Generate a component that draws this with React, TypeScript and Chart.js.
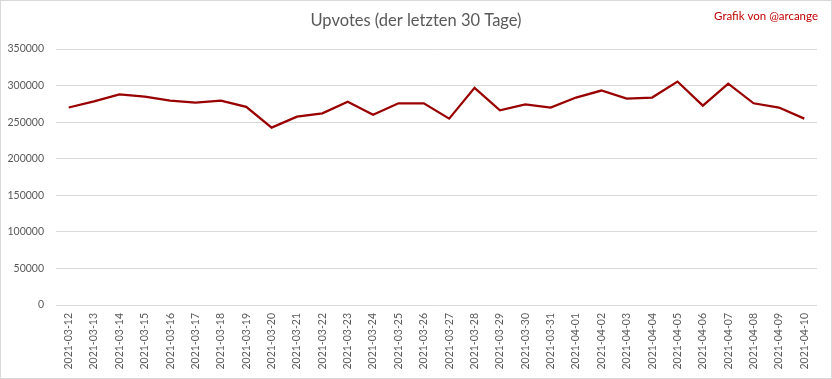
import React, { useEffect, useRef } from "react";
import { Chart, registerables } from "chart.js";

Chart.register(...registerables);

const categories = [
  "2021-03-12", "2021-03-13", "2021-03-14", "2021-03-15", "2021-03-16",
  "2021-03-17", "2021-03-18", "2021-03-19", "2021-03-20", "2021-03-21",
  "2021-03-22", "2021-03-23", "2021-03-24", "2021-03-25", "2021-03-26",
  "2021-03-27", "2021-03-28", "2021-03-29", "2021-03-30", "2021-03-31",
  "2021-04-01", "2021-04-02", "2021-04-03", "2021-04-04", "2021-04-05",
  "2021-04-06", "2021-04-07", "2021-04-08", "2021-04-09", "2021-04-10",
];

const upvotes = [
  270000, 278500, 288000, 285000, 279500,
  276700, 279500, 271000, 242500, 257500,
  262000, 278000, 260000, 275800, 275800,
  254800, 296900, 266200, 274400, 269900,
  283600, 293200, 282200, 283600, 305500,
  272600, 302700, 275800, 269900, 254800,
];

const yMin = 0;
const yMax = 350000;
const yStep = 50000;

const titleText = "Upvotes (der letzten 30 Tage)";
const creditText = "Grafik von @arcange";

const FONT = "Lato, 'Liberation Sans', sans-serif";

export default function App() {
  const ref = useRef<HTMLCanvasElement | null>(null);

  useEffect(() => {
    if (!ref.current) return;
    const decor = {
      id: "decor",
      afterDraw(chart: any) {
        const ctx = chart.ctx;
        ctx.save();
        ctx.strokeStyle = "#D9D9D9";
        ctx.lineWidth = 1;
        ctx.strokeRect(0.5, 0.5, 831, 378);
        ctx.fillStyle = "#595959";
        ctx.font = `16.5px ${FONT}`;
        ctx.textAlign = "center";
        ctx.textBaseline = "middle";
        ctx.fillText(titleText, 416, 21);
        ctx.fillStyle = "#C00000";
        ctx.font = `11.5px ${FONT}`;
        ctx.textAlign = "right";
        ctx.fillText(creditText, 818, 16);
        ctx.restore();
      },
    };
    const chart = new Chart(ref.current, {
      type: "line",
      data: {
        labels: categories,
        datasets: [
          {
            data: upvotes,
            borderColor: "#990000",
            borderWidth: 2.25,
            pointRadius: 0,
            tension: 0,
            fill: false,
          },
        ],
      },
      options: {
        animation: false,
        responsive: false,
        layout: { padding: { top: 49, right: 15, left: 0, bottom: 0 } },
        plugins: {
          legend: { display: false },
          tooltip: { enabled: false },
          title: { display: false },
        },
        scales: {
          x: {
            offset: true,
            grid: { display: false, drawTicks: false },
            border: { display: false },
            ticks: {
              color: "#595959",
              font: { family: FONT, size: 10.5 },
              maxRotation: 90,
              minRotation: 90,
              autoSkip: false,
              padding: 8,
            },
            afterFit(scale: any) {
              scale.height = 74;
            },
          },
          y: {
            min: yMin,
            max: yMax,
            grid: { color: "#D9D9D9", lineWidth: 1, drawTicks: false },
            border: { display: false },
            ticks: {
              stepSize: yStep,
              color: "#595959",
              font: { family: FONT, size: 10.5 },
              padding: 12,
              callback: (v: any) => String(v),
            },
            afterFit(scale: any) {
              scale.width = 56;
            },
          },
        },
      },
      plugins: [decor],
    } as any);
    return () => chart.destroy();
  }, []);

  return (
    <div style={{ position: "absolute", left: 0, top: 0, width: 832, height: 379, background: "#fff" }}>
      <canvas ref={ref} width={832} height={379} />
    </div>
  );
}
